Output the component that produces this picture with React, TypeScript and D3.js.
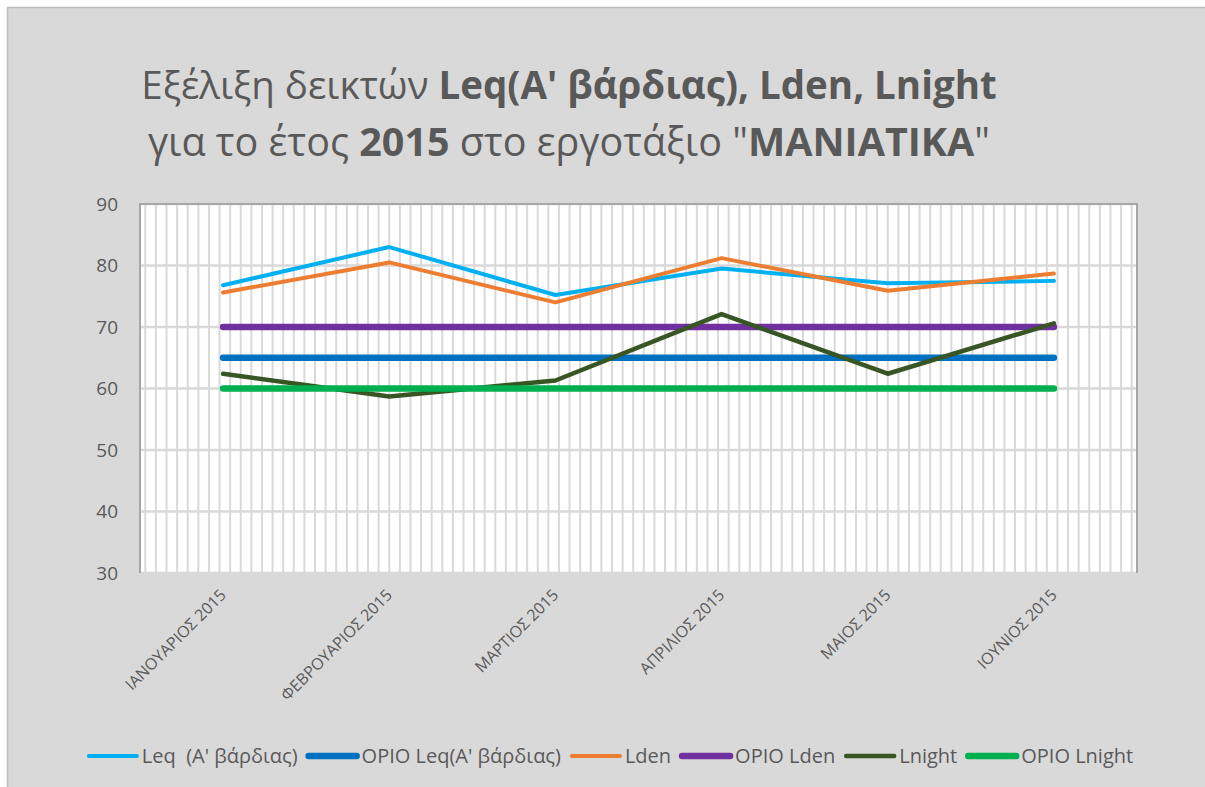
import React, { useEffect, useRef } from "react"
import * as d3 from "d3"

const months = ["ΙΑΝΟΥΑΡΙΟΣ 2015", "ΦΕΒΡΟΥΑΡΙΟΣ 2015", "ΜΑΡΤΙΟΣ 2015", "ΑΠΡΙΛΙΟΣ 2015", "ΜΑΙΟΣ 2015", "ΙΟΥΝΙΟΣ 2015"]
const leq = [76.8, 83.0, 75.2, 79.5, 77.1, 77.5]
const limitLeq = [65, 65, 65, 65, 65, 65]
const lden = [75.6, 80.5, 74.0, 81.2, 75.9, 78.7]
const limitLden = [70, 70, 70, 70, 70, 70]
const lnight = [62.4, 58.7, 61.3, 72.1, 62.4, 70.6]
const limitLnight = [60, 60, 60, 60, 60, 60]
const yTicks = [30, 40, 50, 60, 70, 80, 90]

const seriesNames = ["Leq  (A' βάρδιας)", "ΟΡΙΟ Leq(A' βάρδιας)", "Lden", "ΟΡΙΟ Lden", "Lnight", "ΟΡΙΟ Lnight"]
const seriesValues = [leq, limitLeq, lden, limitLden, lnight, limitLnight]
const seriesColors = ["#00b0f0", "#0070c0", "#ed7d31", "#7030a0", "#375623", "#00b050"]
const seriesWidths = [4, 6.5, 4, 6.5, 4.5, 6.5]

const W = 1205, H = 787
const FONT = "'Open Sans', 'Noto Sans', sans-serif"
const TEXT = "#595959"

export default function App() {
    const svgRef = useRef<SVGSVGElement>(null)

    useEffect(() => {
        if (!svgRef.current) return
        const svg = d3.select(svgRef.current)
        svg.selectAll("*").remove()

        const margin = { left: 140, right: W - 1137, top: 204, bottom: H - 573 }

        // chart background
        svg.append("rect")
            .attr("x", 7.5).attr("y", 7.5)
            .attr("width", W + 20).attr("height", H + 20)
            .attr("fill", "#d9d9d9")
            .attr("stroke", "#bfbfbf")
            .attr("stroke-width", 1.5)

        // title
        const title = svg.append("text")
            .attr("text-anchor", "middle")
            .attr("font-family", FONT)
            .attr("font-size", 38.5)
            .attr("fill", TEXT)
        const l1 = title.append("tspan").attr("x", 569).attr("y", 99)
        l1.append("tspan").text("Εξέλιξη δεικτών ")
        l1.append("tspan").attr("font-weight", "bold").text("Leq(A' βάρδιας), Lden, Lnight")
        const l2 = title.append("tspan").attr("x", 569).attr("y", 156).attr("font-size", 39.5)
        l2.append("tspan").text("για το έτος ")
        l2.append("tspan").attr("font-weight", "bold").text("2015")
        l2.append("tspan").text(" στο εργοτάξιο \"")
        l2.append("tspan").attr("font-weight", "bold").text("ΜΑΝΙΑΤΙΚΑ")
        l2.append("tspan").text("\"")

        const x = d3.scaleBand<string>()
            .domain(months)
            .range([margin.left, W - margin.right])
        const y = d3.scaleLinear()
            .domain([30, 90])
            .range([H - margin.bottom, margin.top])
        const cx = (m: string) => (x(m) ?? 0) + x.bandwidth() / 2

        const [x0, x1] = x.range()
        const [yb, yt] = y.range()

        // plot area
        svg.append("rect")
            .attr("x", x0).attr("y", yt)
            .attr("width", x1 - x0).attr("height", yb - yt)
            .attr("fill", "#ffffff")

        // minor vertical gridlines
        const nv = 94
        const vx = d3.scaleLinear().domain([0, nv]).range([x0, x1])
        svg.append("g")
            .selectAll("line")
            .data(d3.range(nv))
            .join("line")
            .attr("x1", d => vx(d + 0.5)).attr("x2", d => vx(d + 0.5))
            .attr("y1", yt).attr("y2", yb + 3)
            .attr("stroke", "#d9d9d9")
            .attr("stroke-width", 2)

        // horizontal gridlines
        svg.append("g")
            .selectAll("line")
            .data(yTicks)
            .join("line")
            .attr("x1", x0).attr("x2", x1)
            .attr("y1", d => y(d)).attr("y2", d => y(d))
            .attr("stroke", "#d9d9d9")
            .attr("stroke-width", 2.5)

        // plot border
        svg.append("path")
            .attr("d", `M${x0},${yb}V${yt}H${x1}V${yb}`)
            .attr("fill", "none")
            .attr("stroke", "#a6a6a6")
            .attr("stroke-width", 2)

        // y labels
        svg.append("g")
            .selectAll("text")
            .data(yTicks)
            .join("text")
            .attr("x", 118)
            .attr("y", d => y(d))
            .attr("dy", "0.35em")
            .attr("text-anchor", "end")
            .attr("font-family", FONT)
            .attr("font-size", 19)
            .attr("fill", TEXT)
            .text(d => d)

        // x labels
        svg.append("g")
            .selectAll("text")
            .data(months)
            .join("text")
            .attr("transform", d => `translate(${cx(d) + 4},${yb + 23}) rotate(-45)`)
            .attr("text-anchor", "end")
            .attr("font-family", FONT)
            .attr("font-size", 16)
            .attr("fill", TEXT)
            .text(d => d)

        // series
        const line = d3.line<number>()
            .x((_, i) => cx(months[i]))
            .y(d => y(d))
        svg.append("g")
            .selectAll("path")
            .data(seriesValues)
            .join("path")
            .attr("d", d => line(d))
            .attr("fill", "none")
            .attr("stroke", (_, i) => seriesColors[i])
            .attr("stroke-width", (_, i) => seriesWidths[i])
            .attr("stroke-linecap", "round")
            .attr("stroke-linejoin", "round")

        // legend
        const legend = svg.append("g")
        const sample = 48, gapA = 5, gapB = 11
        const items = legend.selectAll("g")
            .data(seriesNames)
            .join("g")
        items.append("line")
            .attr("x1", 0).attr("x2", sample)
            .attr("y1", 0).attr("y2", 0)
            .attr("stroke", (_, i) => seriesColors[i])
            .attr("stroke-width", (_, i) => seriesWidths[i])
            .attr("stroke-linecap", "round")
        items.append("text")
            .attr("x", sample + gapA)
            .attr("dy", "0.35em")
            .attr("font-family", FONT)
            .attr("font-size", 20)
            .attr("fill", TEXT)
            .style("white-space", "pre")
            .text(d => d)
        const widths: number[] = []
        items.select<SVGTextElement>("text").each(function () {
            widths.push(this.getComputedTextLength())
        })
        const total = d3.sum(widths, w => sample + gapA + w) + gapB * (widths.length - 1)
        let pos = 611 - total / 2
        items.attr("transform", (_, i) => {
            const t = `translate(${pos},756)`
            pos += sample + gapA + widths[i] + gapB
            return t
        })
    }, [])

    return (
        <svg ref={svgRef} width={W} height={H}
            style={{ position: "absolute", left: 0, top: 0, background: "#ffffff" }} />
    )
}
